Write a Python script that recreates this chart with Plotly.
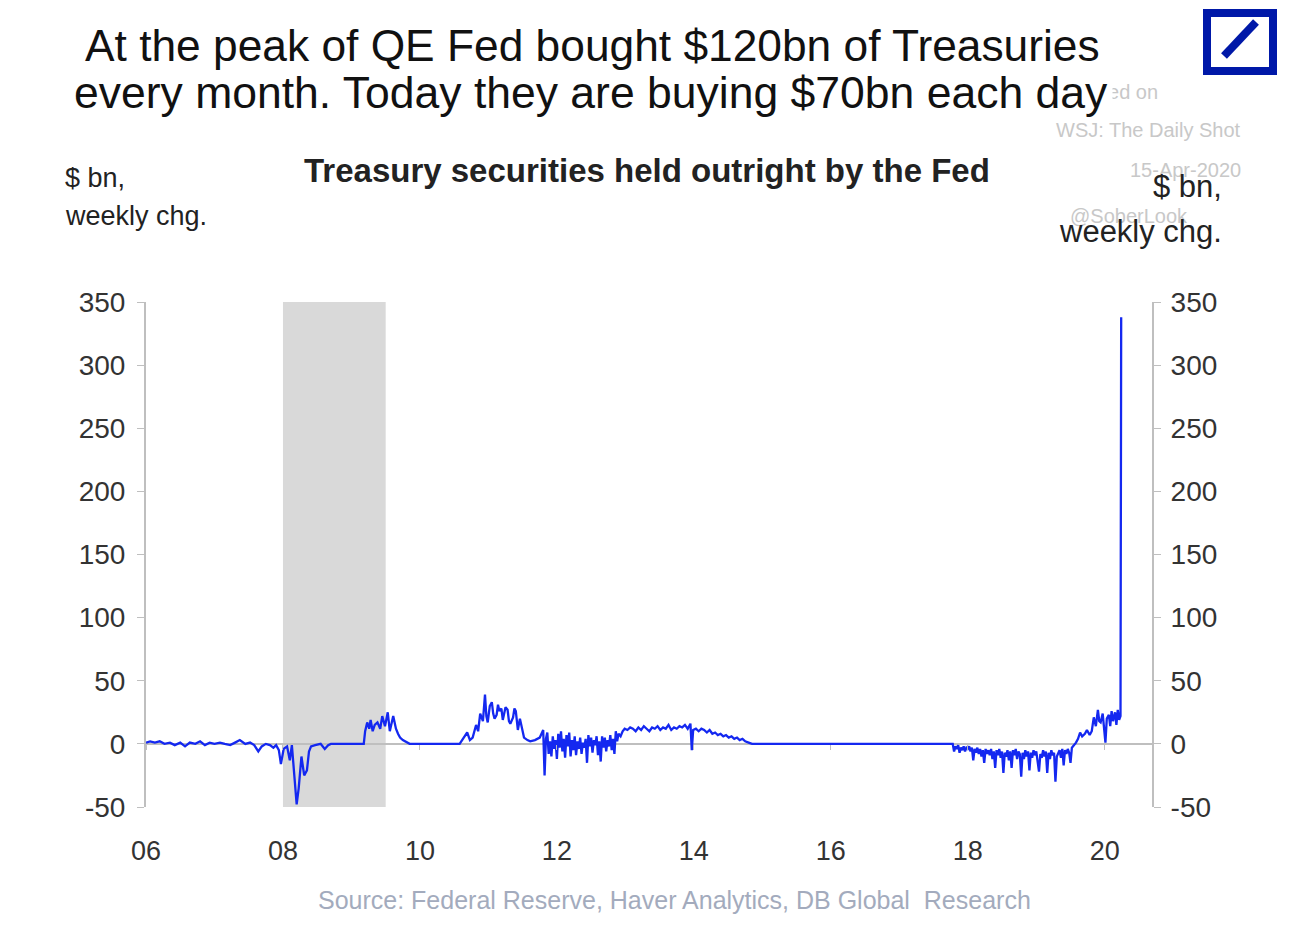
import plotly.graph_objects as go

# ---- data (decimal years, $ bn weekly change) ----
years = [
    2006.00, 2006.06, 2006.13, 2006.20, 2006.27, 2006.35, 2006.42, 2006.50, 2006.57, 2006.64,
    2006.72, 2006.79, 2006.86, 2006.93, 2007.00, 2007.08, 2007.15, 2007.23, 2007.30, 2007.37,
    2007.45, 2007.52, 2007.58, 2007.64, 2007.69, 2007.75, 2007.81, 2007.86, 2007.90, 2007.94,
    2007.97, 2008.01, 2008.06, 2008.10, 2008.13, 2008.16, 2008.20, 2008.23, 2008.27, 2008.31,
    2008.35, 2008.38, 2008.41, 2008.47, 2008.55, 2008.61, 2008.66, 2008.70, 2008.76, 2008.91,
    2009.05, 2009.12, 2009.18, 2009.20, 2009.23, 2009.26, 2009.28, 2009.31, 2009.34, 2009.38,
    2009.42, 2009.45, 2009.49, 2009.53, 2009.56, 2009.61, 2009.65, 2009.68, 2009.71, 2009.75,
    2009.78, 2009.85, 2010.00, 2010.29, 2010.58, 2010.64, 2010.69, 2010.73, 2010.77, 2010.82,
    2010.85, 2010.88, 2010.92, 2010.95, 2010.97, 2010.99, 2011.02, 2011.05, 2011.07, 2011.09,
    2011.12, 2011.14, 2011.16, 2011.19, 2011.21, 2011.25, 2011.28, 2011.30, 2011.32, 2011.36,
    2011.38, 2011.40, 2011.43, 2011.46, 2011.49, 2011.52, 2011.57, 2011.61, 2011.68, 2011.75,
    2011.80, 2011.82, 2011.84, 2011.86, 2011.88, 2011.90, 2011.92, 2011.94, 2011.96, 2011.98,
    2012.00, 2012.02, 2012.04, 2012.06, 2012.08, 2012.10, 2012.12, 2012.14, 2012.16, 2012.18,
    2012.20, 2012.22, 2012.24, 2012.26, 2012.28, 2012.30, 2012.32, 2012.34, 2012.36, 2012.38,
    2012.40, 2012.42, 2012.44, 2012.46, 2012.48, 2012.50, 2012.52, 2012.54, 2012.56, 2012.58,
    2012.60, 2012.62, 2012.64, 2012.66, 2012.68, 2012.70, 2012.72, 2012.74, 2012.76, 2012.78,
    2012.80, 2012.82, 2012.84, 2012.86, 2012.88, 2012.90, 2012.93, 2012.96, 2012.99, 2013.03,
    2013.07, 2013.11, 2013.15, 2013.19, 2013.23, 2013.27, 2013.31, 2013.35, 2013.39, 2013.43,
    2013.47, 2013.51, 2013.55, 2013.59, 2013.63, 2013.67, 2013.71, 2013.75, 2013.79, 2013.83,
    2013.87, 2013.91, 2013.95, 2013.97, 2013.99, 2014.03, 2014.07, 2014.11, 2014.15, 2014.19,
    2014.23, 2014.27, 2014.31, 2014.35, 2014.39, 2014.43, 2014.47, 2014.51, 2014.55, 2014.59,
    2014.63, 2014.67, 2014.71, 2014.75, 2014.80, 2014.85, 2015.50, 2016.50, 2017.50, 2017.78,
    2017.80, 2017.82, 2017.84, 2017.86, 2017.88, 2017.90, 2017.92, 2017.94, 2017.96, 2017.98,
    2018.00, 2018.02, 2018.04, 2018.06, 2018.08, 2018.10, 2018.12, 2018.14, 2018.16, 2018.18,
    2018.20, 2018.22, 2018.24, 2018.26, 2018.28, 2018.30, 2018.32, 2018.34, 2018.36, 2018.38,
    2018.40, 2018.42, 2018.44, 2018.46, 2018.48, 2018.50, 2018.52, 2018.54, 2018.56, 2018.58,
    2018.60, 2018.62, 2018.64, 2018.66, 2018.68, 2018.70, 2018.72, 2018.74, 2018.76, 2018.78,
    2018.80, 2018.82, 2018.84, 2018.86, 2018.88, 2018.90, 2018.92, 2018.94, 2018.96, 2018.98,
    2019.00, 2019.02, 2019.04, 2019.06, 2019.08, 2019.10, 2019.12, 2019.14, 2019.16, 2019.18,
    2019.20, 2019.22, 2019.24, 2019.26, 2019.28, 2019.30, 2019.32, 2019.34, 2019.36, 2019.38,
    2019.40, 2019.42, 2019.44, 2019.46, 2019.48, 2019.50, 2019.52, 2019.55, 2019.58, 2019.61,
    2019.64, 2019.67, 2019.71, 2019.74, 2019.78, 2019.81, 2019.84, 2019.87, 2019.90, 2019.92,
    2019.94, 2019.97, 2019.99, 2020.01, 2020.03, 2020.06, 2020.08, 2020.10, 2020.12, 2020.15,
    2020.17, 2020.19, 2020.21, 2020.23,
]
weekly_chg = [
    1, 2, 1, 2, 0, 1, -1, 1, -2, 1,
    0, 2, -1, 1, 0, 1, 0, -1, 1, 3,
    0, 1, -1, -6, -2, 0, -1, -3, -1, -5,
    -16, -4, -2, -13, -1, -20, -48, -35, -10, -25,
    -21, -6, -2, -1, 0, -4, -1, 0, 0, 0,
    0, 0, 0, 10, 17, 12, 19, 10, 15, 17,
    12, 22, 14, 25, 10, 22, 12, 8, 5, 3,
    2, 0, 0, 0, 0, 5, 9, 3, 5, 15,
    10, 24, 18, 39, 22, 17, 30, 33, 24, 20,
    23, 31, 26, 28, 19, 29, 27, 18, 16, 21,
    28, 26, 11, 20, 12, 5, 3, 2, 3, 5,
    11, -25, 4, 9, -8, 2, -10, 6, -4, 3,
    -12, 8, -3, 10, -6, 4, -11, 7, -2, 9,
    -10, 3, -5, 6, -9, 2, -4, 5, -8, 1,
    -3, 4, -15, 7, -2, 5, -7, 3, -1, 6,
    -9, 2, -14, 6, -3, 5, -6, 3, -2, 7,
    -5, 4, -8, 10, 2, 8, 6, 10, 12, 11,
    13, 12, 10, 13, 11, 14, 12, 10, 13, 12,
    14, 11, 13, 12, 15, 11, 13, 12, 14, 13,
    15, 12, 16, -5, 11, 12, 10, 12, 11, 9,
    11, 8, 9, 7, 8, 6, 7, 5, 6, 4,
    5, 3, 4, 2, 1, 0, 0, 0, 0, 0,
    -6, -2, -4, -1, -7, -3, -5, -2, -6, -3,
    -4, -2, -6, -3, -13, -4, -7, -3, -8, -4,
    -10, -5, -15, -4, -8, -5, -9, -4, -12, -6,
    -19, -5, -9, -4, -11, -6, -23, -7, -10, -5,
    -13, -6, -19, -5, -9, -4, -12, -6, -8, -26,
    -7, -12, -5, -10, -6, -21, -7, -11, -5, -9,
    -6, -14, -22, -8, -11, -5, -10, -6, -23, -7,
    -12, -5, -9, -7, -30, -10, -8, -5, -11, -4,
    -17, -5, -8, -4, -7, -15, -3, -1, 1, 4,
    9, 6, 8, 11, 7, 10, 21, 14, 27, 18,
    17, 24, 12, 1, 20, 23, 14, 26, 18, 25,
    15, 27, 19, 22,
]
# final observation: the March-2020 surge
years = years + [2020.24]
weekly_chg = weekly_chg + [338]

recession_start = [2008.0]
recession_end = [2009.5]

tick_years = [2006, 2008, 2010, 2012, 2014, 2016, 2018, 2020]
tick_text = ["06", "08", "10", "12", "14", "16", "18", "20"]
y_ticks = [-50, 0, 50, 100, 150, 200, 250, 300, 350]
y_tick_text = ["-50", "0", "50", "100", "150", "200", "250", "300", "350"]

FONT = "Liberation Sans, Arial, sans-serif"
AXIS_GREY = "#bfbfbf"
TXT = "#333333"
OFF = 8  # page body margin

fig = go.Figure()

for s, e in zip(recession_start, recession_end):
    fig.add_shape(type="rect", xref="x", yref="y", x0=s, x1=e, y0=-50, y1=350,
                  fillcolor="#d9d9d9", line_width=0, layer="below")

fig.add_trace(go.Scatter(x=years, y=weekly_chg, mode="lines",
                         line=dict(color="#1428f0", width=2.3), showlegend=False,
                         hoverinfo="x+y"))
fig.add_trace(go.Scatter(x=[years[0]], y=[weekly_chg[0]], yaxis="y2", mode="lines",
                         line=dict(width=0), showlegend=False, hoverinfo="skip"))
fig.add_trace(go.Scatter(x=[years[0]], y=[weekly_chg[0]], xaxis="x2", mode="lines",
                         line=dict(width=0), showlegend=False, hoverinfo="skip"))

xr = [2006.0, 2020.69]
yr = [-50, 350]

W, H = 1287, 916
fig.update_layout(
    width=W, height=H,
    margin=dict(l=146 - OFF, r=W - (1152 - OFF), t=302 - OFF, b=H - (807 - OFF)),
    paper_bgcolor="white", plot_bgcolor="white",
    font=dict(family=FONT, color=TXT),
    xaxis=dict(range=xr, tickvals=tick_years, ticktext=tick_text,
               showgrid=False, zeroline=False, showline=False, ticks="",
               ticklabelstandoff=25, tickfont=dict(size=27, color=TXT)),
    xaxis2=dict(range=xr, overlaying="x", anchor="free", position=0.125,
                tickvals=tick_years, showticklabels=False, ticks="outside",
                ticklen=5, tickcolor=AXIS_GREY, showgrid=False, zeroline=False,
                showline=False),
    yaxis=dict(range=yr, tickvals=y_ticks, ticktext=y_tick_text, showgrid=False,
               zeroline=True, zerolinecolor=AXIS_GREY, zerolinewidth=2,
               showline=True, linecolor=AXIS_GREY, linewidth=2,
               ticks="outside", ticklen=7, tickcolor=AXIS_GREY,
               ticklabelstandoff=6, tickfont=dict(size=28, color=TXT)),
    yaxis2=dict(range=yr, tickvals=y_ticks, ticktext=y_tick_text, overlaying="y",
                side="right", showgrid=False, zeroline=False,
                showline=True, linecolor=AXIS_GREY, linewidth=2,
                ticks="outside", ticklen=7, tickcolor=AXIS_GREY,
                ticklabelstandoff=4, tickfont=dict(size=28, color=TXT)),
)

def px_x(p):
    return (p - 146) / 1006

def px_y(p):
    return (807 - p) / 505

# Deutsche Bank logo
fig.add_shape(type="rect", xref="paper", yref="paper",
              x0=px_x(1207), x1=px_x(1273), y0=px_y(71), y1=px_y(13),
              line=dict(color="#0018a8", width=8), fillcolor="rgba(0,0,0,0)")
fig.add_shape(type="line", xref="paper", yref="paper",
              x0=px_x(1224), x1=px_x(1256), y0=px_y(56), y1=px_y(22),
              line=dict(color="#0018a8", width=8))

# faint watermark (partly hidden behind the headline, as in the original)
wm = "#c8c8c8"
for txt, x, y in [("Posted on", 1160, 92), ("WSJ: The Daily Shot", 1243, 130),
                  ("15-Apr-2020", 1243, 170), ("@SoberLook", 1190, 216)]:
    fig.add_annotation(text=txt, xref="paper", yref="paper", x=px_x(x), y=px_y(y),
                       xanchor="right", yanchor="middle", showarrow=False,
                       font=dict(size=20, color=wm, family=FONT))

# headline: second line first (its white box hides the watermark), first line on top
fig.add_annotation(text="every month. Today they are buying $70bn each day",
                   xref="paper", yref="paper", x=px_x(591), y=px_y(92),
                   xanchor="center", yanchor="middle", showarrow=False,
                   bgcolor="white", borderpad=4,
                   font=dict(size=44.5, color="#111111", family=FONT))
fig.add_annotation(text="At the peak of QE Fed bought $120bn of Treasuries",
                   xref="paper", yref="paper", x=px_x(592), y=px_y(45),
                   xanchor="center", yanchor="middle", showarrow=False,
                   font=dict(size=44.3, color="#111111", family=FONT))

fig.add_annotation(text="<b>Treasury securities held outright by the Fed</b>",
                   xref="paper", yref="paper", x=px_x(647), y=px_y(170),
                   xanchor="center", yanchor="middle", showarrow=False,
                   font=dict(size=33, color="#222222", family=FONT))

fig.add_annotation(text="$ bn,", xref="paper", yref="paper",
                   x=px_x(63), y=px_y(178), xanchor="left", yanchor="middle",
                   showarrow=False, font=dict(size=27, color="#222222", family=FONT))
fig.add_annotation(text="weekly chg.", xref="paper", yref="paper",
                   x=px_x(63), y=px_y(216), xanchor="left", yanchor="middle",
                   showarrow=False, font=dict(size=27, color="#222222", family=FONT))

fig.add_annotation(text="$ bn,", xref="paper", yref="paper",
                   x=px_x(1224), y=px_y(186), xanchor="right", yanchor="middle",
                   showarrow=False, font=dict(size=31, color="#222222", family=FONT))
fig.add_annotation(text="weekly chg.", xref="paper", yref="paper",
                   x=px_x(1224), y=px_y(231), xanchor="right", yanchor="middle",
                   showarrow=False, font=dict(size=31, color="#222222", family=FONT))

fig.add_annotation(text="Source: Federal Reserve, Haver Analytics, DB Global  Research",
                   xref="paper", yref="paper", x=px_x(674), y=px_y(900),
                   xanchor="center", yanchor="middle", showarrow=False,
                   font=dict(size=25, color="#a3abbd", family=FONT))

fig.write_html("out.html")
